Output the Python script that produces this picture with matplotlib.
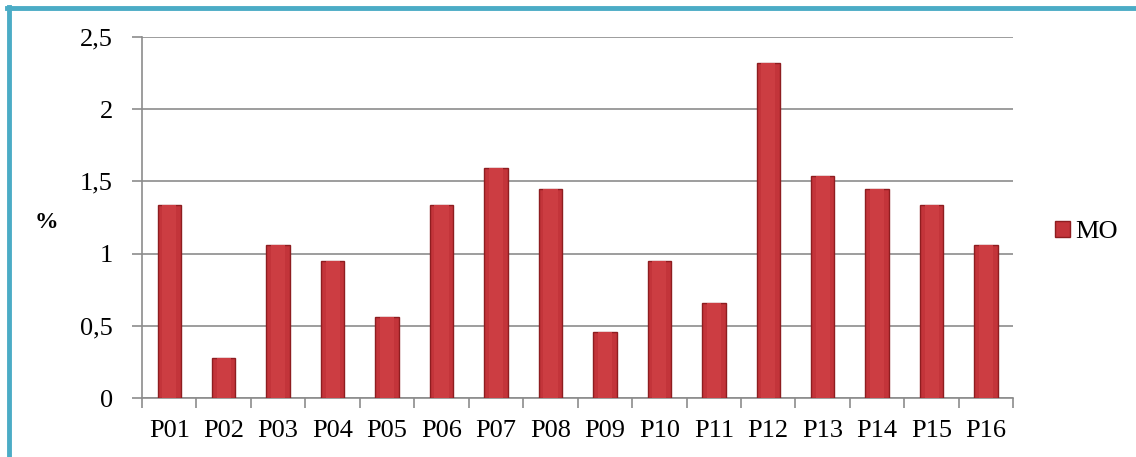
import numpy as np
import matplotlib.pyplot as plt
from matplotlib.lines import Line2D
from matplotlib.patches import Patch

plt.rcParams['font.family'] = ['Liberation Serif', 'DejaVu Serif']

labels = ['P01', 'P02', 'P03', 'P04', 'P05', 'P06', 'P07', 'P08',
          'P09', 'P10', 'P11', 'P12', 'P13', 'P14', 'P15', 'P16']
mo = [1.34, 0.28, 1.06, 0.95, 0.56, 1.34, 1.59, 1.45,
      0.46, 0.95, 0.66, 2.32, 1.54, 1.45, 1.34, 1.06]
yticks = [0, 0.5, 1, 1.5, 2, 2.5]
ytick_labels = ['0', '0,5', '1', '1,5', '2', '2,5']

fig = plt.figure(figsize=(11.36, 4.57), dpi=100)
ax = fig.add_axes([0.125, 0.129, 0.767, 0.790])

x = np.arange(len(labels))
ax.bar(x, mo, width=0.43, color='#C3343A', edgecolor='#8E1D20', linewidth=1.0, zorder=3)
# slightly lighter centre to hint the bevel
ax.bar(x, mo, width=0.26, color='#CC3D42', linewidth=0, zorder=4)

ax.set_xlim(-0.5, len(labels) - 0.5)
ax.set_ylim(0, 2.5)
ax.set_yticks(yticks)
ax.set_yticklabels(ytick_labels)
ax.set_xticks(x)
ax.set_xticklabels(labels)
ax.set_xticks(np.arange(-0.5, len(labels)), minor=True)
ax.tick_params(axis='x', which='major', length=0, labelsize=19, pad=16)
ax.tick_params(axis='x', which='minor', length=7, color='#8C8C8C', width=1.2)
ax.tick_params(axis='y', length=7, color='#8C8C8C', width=1.2, labelsize=19, pad=14)
ax.grid(axis='y', color='#8C8C8C', linewidth=1.2, zorder=0)
for side in ['top', 'right']:
    ax.spines[side].set_visible(False)
for side in ['left', 'bottom']:
    ax.spines[side].set_color('#8C8C8C')
    ax.spines[side].set_linewidth(1.2)

fig.text(0.041, 0.514, '%', fontsize=17, fontweight='bold', ha='center', va='center')

handle = Patch(facecolor='#C3343A', edgecolor='#8E1D20')
fig.legend([handle], ['MO'], loc='center left', bbox_to_anchor=(0.908, 0.492),
           frameon=False, fontsize=19, handlelength=0.55, handleheight=0.55,
           handletextpad=0.2)

# teal frame (left and top visible)
fig.add_artist(Line2D([0.0079, 0.0079], [0, 0.985], color='#4BACC6', linewidth=3.5,
                      transform=fig.transFigure))
fig.add_artist(Line2D([0.0064, 1.0], [0.9825, 0.9825], color='#4BACC6', linewidth=3.5,
                      transform=fig.transFigure))

fig.savefig('out.png', dpi=100)
